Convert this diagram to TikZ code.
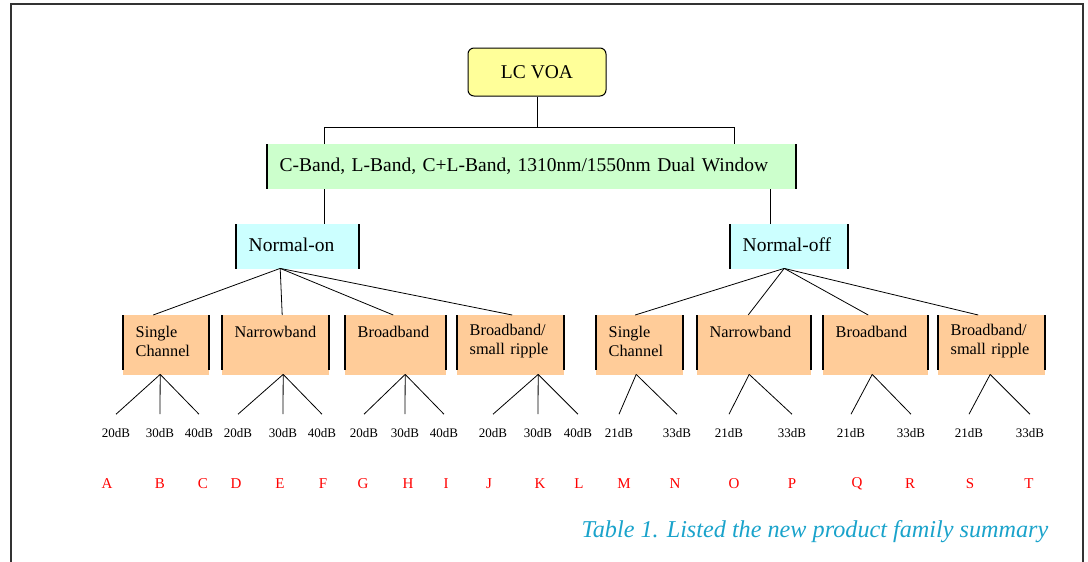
\documentclass[tikz,border=0pt]{standalone}
\usepackage{fontspec}
\setmainfont{Liberation Serif}
\usepackage{tikz}

\definecolor{voayellow}{HTML}{FFFF99}
\definecolor{bandgreen}{HTML}{CCFFCC}
\definecolor{modecyan}{HTML}{CCFFFF}
\definecolor{typeorange}{HTML}{FFCC99}
\definecolor{framegray}{HTML}{333333}
\definecolor{captionblue}{HTML}{1AA3CB}

\newcommand{\bigfont}{\fontsize{19.5}{22}\selectfont}
\newcommand{\midfont}{\fontsize{16.3}{18.5}\selectfont}

\tikzset{
  sidebar/.style={line width=2pt},
  link/.style={line width=0.8pt},
  leaf/.style={inner sep=0pt, font=\fontsize{13}{15}\selectfont},
  letter/.style={inner sep=0pt, text=red, font=\fontsize{15}{17}\selectfont}
}

\begin{document}
\begin{tikzpicture}[x=1pt,y=-1pt]
        \useasboundingbox (0,0) rectangle (1088,562);
        \draw[framegray, line width=2pt] (11,580) -- (11,4) -- (1083,4) -- (1083,580);

        % top box
        \node[draw, fill=voayellow, rounded corners=6pt, line width=1pt,
              minimum width=138pt, minimum height=48pt, font=\bigfont] (voa) at (537,72) {LC VOA};

        \begin{scope}[every node/.style={anchor=north west, inner xsep=12.5pt, inner ysep=0pt, align=left}]
          \node[fill=bandgreen, text width=504pt, minimum height=45pt, font=\bigfont] (band) at (267,144)
               {C-Band, L-Band, C+L-Band, 1310nm/1550nm Dual Window};
          \node[fill=modecyan, text width=98pt, minimum height=41pt, font=\bigfont] (on)  at (236,224) {Normal-on};
          \node[fill=modecyan, text width=93pt, minimum height=41pt, font=\bigfont] (off) at (730,224) {Normal-off};

          \begin{scope}[every node/.append style={fill=typeorange, minimum height=52pt, font=\midfont}]
            \node[text width=61pt] (sc1) at (123,315) {Single\\Channel};
            \node[text width=82pt] (nb1) at (222,315) {Narrowband\\~};
            \node[text width=76pt] (bb1) at (345,315) {Broadband\\~};
            \node[text width=82pt] (br1) at (457,315) {Broadband/\\small ripple};
            \node[text width=62pt] (sc2) at (596,315) {Single\\Channel};
            \node[text width=89pt] (nb2) at (697,315) {Narrowband\\~};
            \node[text width=80pt] (bb2) at (823,315) {Broadband\\~};
            \node[text width=82pt] (br2) at (938,315) {Broadband/\\small ripple};
          \end{scope}
        \end{scope}

        % thick sides
        \foreach \b in {band}
          \draw[sidebar] (\b.north west) -- (\b.south west) (\b.north east) -- (\b.south east);
        \foreach \b in {on,off} {
          \fill[modecyan] (\b.south west) rectangle ([yshift=-4pt]\b.south east);
          \draw[sidebar] (\b.north west) -- ([yshift=-4pt]\b.south west)
                         (\b.north east) -- ([yshift=-4pt]\b.south east);
        }
        \foreach \b in {sc1,nb1,bb1,br1,sc2,nb2,bb2,br2} {
          \fill[typeorange] (\b.south west) rectangle ([yshift=-8pt]\b.south east);
          \draw[sidebar] (\b.north west) -- ([yshift=-3pt]\b.south west)
                         (\b.north east) -- ([yshift=-3pt]\b.south east);
        }

        % attenuation values
        \foreach \nm/\x/\lbl in {l1/116/20dB, l2/160/30dB, l3/199/40dB, l4/238/20dB, l5/283/30dB,
                                 l6/322/40dB, l7/364/20dB, l8/405/30dB, l9/444/40dB, l10/493/20dB,
                                 l11/538/30dB, l12/578/40dB, l13/619/21dB, l14/677/33dB, l15/729/21dB,
                                 l16/792/33dB, l17/851/21dB, l18/911/33dB, l19/969/21dB, l20/1030/33dB}
          \node[leaf] (\nm) at (\x,433) {\lbl};

        % part letters
        \foreach \nm/\x in {A/107, B/160, C/203, D/236, E/280, F/323, G/363, H/408, I/446, J/489,
                            K/540, L/579, M/624, N/675, O/734, P/792, Q/857, R/910, S/970, T/1029}
          \node[letter] (\nm) at (\x,484) {\nm};

        \node[text=captionblue, font=\fontsize{24.2}{27}\selectfont\itshape] (cap) at (815,532)
             {Table 1. Listed the new product family summary};

        % tree lines
        \coordinate (barL) at (324,127);
        \coordinate (barR) at (734,127);
        \draw[link] (voa.south) -- (voa.south |- barL);
        \draw[link] (band.north -| barL) -- (barL) -- (barR) -- (band.north -| barR);
        \draw[link] (band.south -| barL) -- (on.north -| barL);
        \draw[link] ([xshift=-19pt]off.north) -- ([xshift=-19pt]off.north |- band.south);

        \foreach \b/\dx in {sc1/-13, nb1/6.5, bb1/-2.5, br1/1.5}
          \draw[link] ([xshift=-17.5pt,yshift=-3pt]on.south) -- ([xshift=\dx pt]\b.north);
        \foreach \b/\dx in {sc2/-4.5, nb2/-6, bb2/-7.5, br2/-13.5}
          \draw[link] ([xshift=-5pt,yshift=-3pt]off.south) -- ([xshift=\dx pt]\b.north);

        \foreach \b/\dx/\ends in {sc1/-6/{l1,l2,l3}, nb1/7.5/{l4,l5,l6}, bb1/9.5/{l7,l8,l9},
                                  br1/27.5/{l10,l11,l12}, sc2/-3.5/{l13,l14}, nb2/-5/{l15,l16},
                                  bb2/-3.5/{l17,l18}, br2/-1.5/{l19,l20}}
          \foreach \e in \ends
            \draw[link] ([xshift=\dx pt,yshift=-7pt]\b.south) -- ([yshift=14pt]\e.north);

\end{tikzpicture}
\end{document}
